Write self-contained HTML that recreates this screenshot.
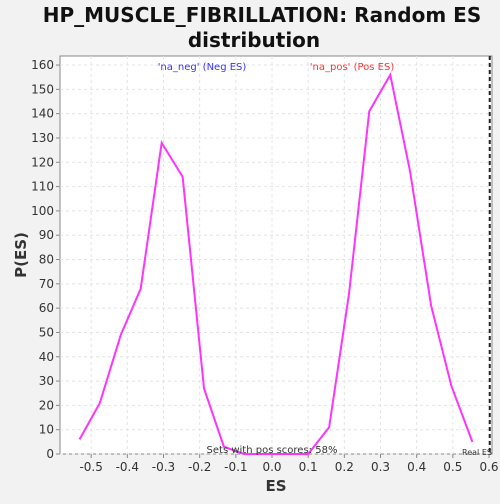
<!DOCTYPE html>
<html><head><meta charset="utf-8"><style>
body{margin:0;background:#f2f2f2;font-family:"DejaVu Sans","Liberation Sans",sans-serif}
</style></head><body>
<svg width="500" height="500" xmlns="http://www.w3.org/2000/svg">
<rect width="500" height="500" fill="#f2f2f2"/>
<text x="262" y="22" font-size="20" font-weight="bold" text-anchor="middle" fill="#111">HP_MUSCLE_FIBRILLATION: Random ES</text>
<text x="254" y="47" font-size="20" font-weight="bold" text-anchor="middle" fill="#111">distribution</text>
<rect x="60" y="56" width="432" height="398" fill="#fff" stroke="#888"/>
<g id="grid"></g><g id="axes"></g>
<line id="real" y1="56" y2="454" stroke="#222" stroke-width="2" stroke-dasharray="4,3"/>
<polyline id="line" fill="none" stroke="#ff33ff" stroke-width="2"/>
<text x="202" y="70" font-size="10" fill="#3333ff" text-anchor="middle">'na_neg' (Neg ES)</text>
<text x="352" y="70" font-size="10" fill="#ff3333" text-anchor="middle">'na_pos' (Pos ES)</text>
<text x="272" y="453" font-size="10" fill="#333" text-anchor="middle">Sets with pos scores: 58%</text>
<text x="477" y="455" font-size="8" fill="#333" text-anchor="middle">Real ES</text>
<text x="276" y="491" font-size="15" font-weight="bold" text-anchor="middle" fill="#333">ES</text>
<text x="26" y="255" font-size="15" font-weight="bold" text-anchor="middle" fill="#333" transform="rotate(-90 26 255)">P(ES)</text>
</svg>
<script>
const esValues=[-0.532,-0.476,-0.418,-0.363,-0.305,-0.247,-0.188,-0.133,-0.078,-0.02,0.04,0.10,0.158,0.213,0.269,0.327,0.382,0.44,0.496,0.554];
const pValues=[6,21,49,68,128,114,27,3,0,0,0,0,11,66,141,156,116,61,28,5];
const xTicks=[-0.5,-0.4,-0.3,-0.2,-0.1,0.0,0.1,0.2,0.3,0.4,0.5,0.6];
const yTicks=[0,10,20,30,40,50,60,70,80,90,100,110,120,130,140,150,160];
const realES=0.602;
const X=v=>272+v*361.7, Y=v=>454-v*2.431;
const ns="http://www.w3.org/2000/svg";
const g=document.getElementById('grid'),a=document.getElementById('axes');
function mk(t,at,p){const e=document.createElementNS(ns,t);for(const k in at)e.setAttribute(k,at[k]);p.appendChild(e);return e;}
xTicks.forEach(v=>{
 const l=mk('line',{x1:X(v),x2:X(v),y1:56,y2:454,stroke:'#e4e4e4','stroke-dasharray':'3,3'},g);
 
 
 const k=mk('line',{x1:X(v),x2:X(v),y1:454,y2:458,stroke:'#888'},a);
 
 
 const t=mk('text',{x:X(v),y:471,'font-size':12,'text-anchor':'middle',fill:'#333'},a);
 
 
 t.textContent=v.toFixed(1);
});
yTicks.forEach(v=>{
 const l=mk('line',{x1:60,x2:492,y1:Y(v),y2:Y(v),stroke:'#e4e4e4','stroke-dasharray':'3,3'},g);
 
 
 const k=mk('line',{x1:56,x2:60,y1:Y(v),y2:Y(v),stroke:'#888'},a);
 
 
 const t=mk('text',{x:54,y:Y(v)+4,'font-size':12,'text-anchor':'end',fill:'#333'},a);
 
 
 t.textContent=v;
});
document.getElementById('line').setAttribute('points',esValues.map((v,i)=>X(v)+','+Y(pValues[i])).join(' '));
const r=document.getElementById('real');r.setAttribute('x1',X(realES));r.setAttribute('x2',X(realES));
</script>
</body></html>
